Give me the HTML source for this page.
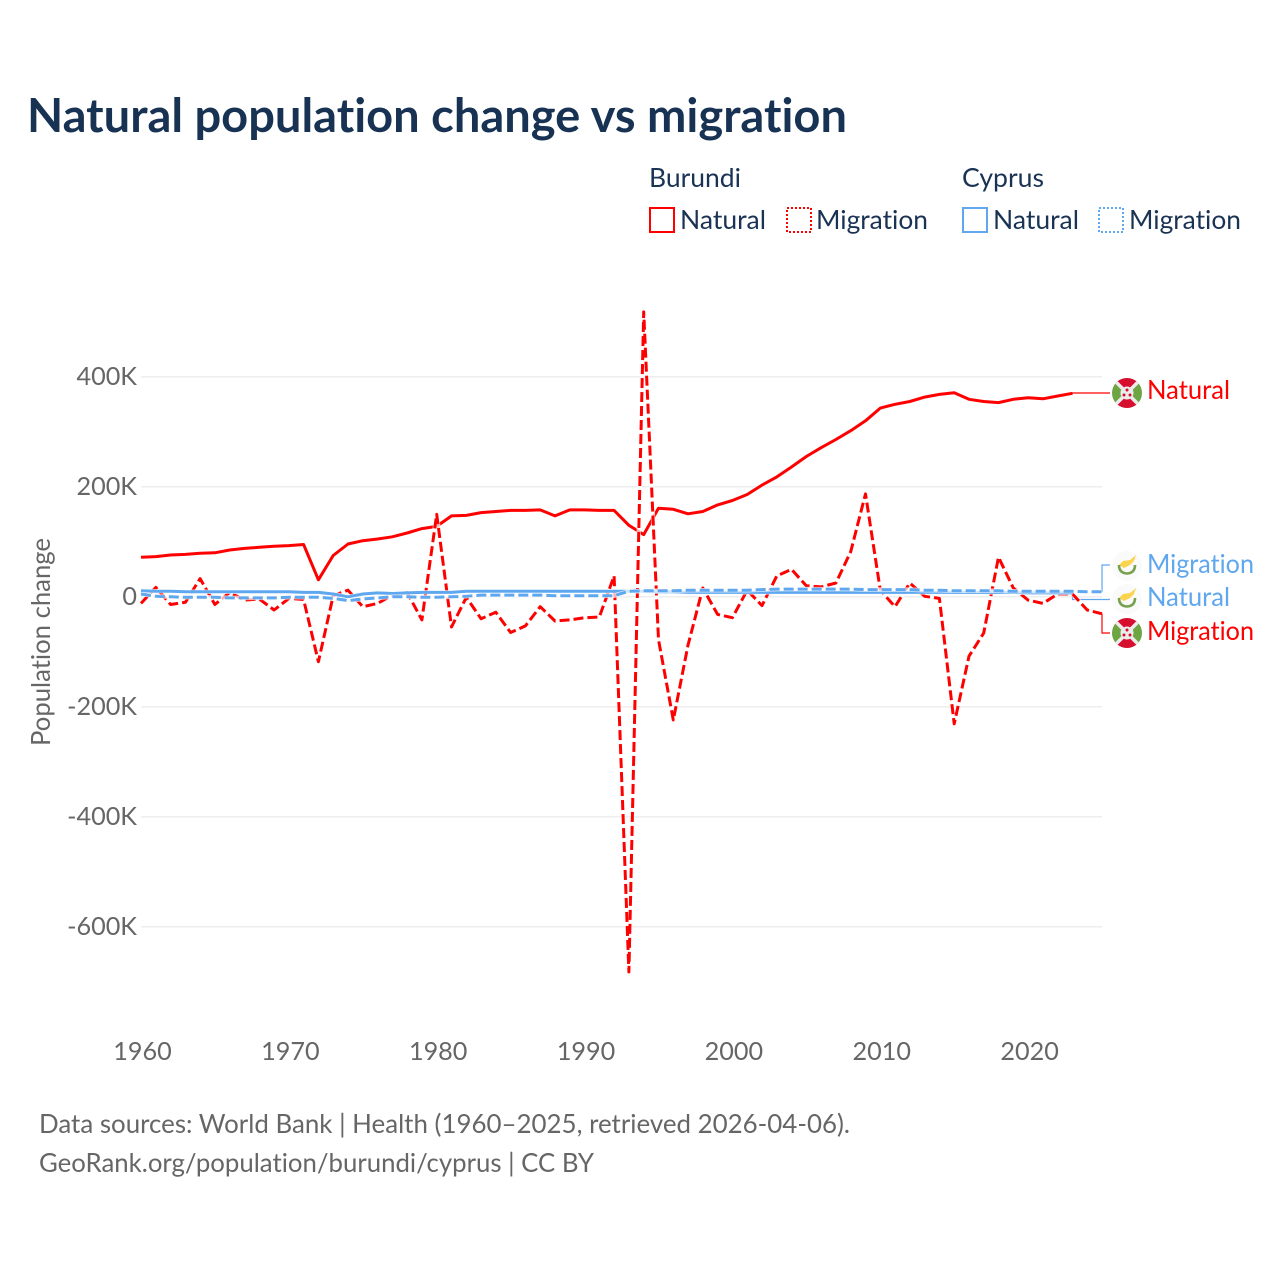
<!DOCTYPE html>
<html lang="en">
<head>
<meta charset="utf-8">
<title>Natural population change vs migration</title>
<style>
html,body{margin:0;padding:0;background:#fff;}
svg{display:block;}
text{font-family:"Lato","Carlito","Liberation Sans",sans-serif;font-variant-ligatures:none;font-feature-settings:"liga" 0;}
.navy{fill:#1a3354;font-size:26px;}
.grey{fill:#666666;font-size:26px;}
.tick{fill:#666666;font-size:25.2px;}
.red{fill:#ff0000;font-size:26px;}
.blue{fill:#5fa7ee;font-size:26px;}
</style>
</head>
<body>
<svg id="chart" xmlns="http://www.w3.org/2000/svg" width="1280" height="1280" viewBox="0 0 1280 1280">
  <rect width="1280" height="1280" fill="#ffffff"/>
  <text x="27" y="132" textLength="820" lengthAdjust="spacingAndGlyphs" style="font-size:46.5px;font-weight:700;fill:#173252">Natural population change vs migration</text>

  <g>
    <text class="navy" x="649" y="187" textLength="92" lengthAdjust="spacingAndGlyphs">Burundi</text>
    <text class="navy" x="962" y="187" textLength="82" lengthAdjust="spacingAndGlyphs">Cyprus</text>
    <rect x="650" y="208" width="24" height="24" fill="none" stroke="#ff0000" stroke-width="2"/>
    <text class="navy" x="680" y="229" textLength="86" lengthAdjust="spacingAndGlyphs">Natural</text>
    <rect x="787" y="208" width="24" height="24" fill="none" stroke="#ff0000" stroke-width="2" stroke-dasharray="2 2"/>
    <text class="navy" x="816" y="229" textLength="112" lengthAdjust="spacingAndGlyphs">Migration</text>
    <rect x="963" y="208" width="24" height="24" fill="none" stroke="#5fa7ee" stroke-width="2"/>
    <text class="navy" x="993" y="229" textLength="86" lengthAdjust="spacingAndGlyphs">Natural</text>
    <rect x="1099" y="208" width="24" height="24" fill="none" stroke="#5fa7ee" stroke-width="2" stroke-dasharray="2 2"/>
    <text class="navy" x="1129" y="229" textLength="112" lengthAdjust="spacingAndGlyphs">Migration</text>
  </g>

  <g id="grid"></g>
  <g id="ytick-labels"></g>
  <g id="xtick-labels"></g>
  <text class="grey" transform="translate(50,746) rotate(-90)" x="0" y="0" textLength="208" lengthAdjust="spacingAndGlyphs">Population change</text>

  <g id="leaders" fill="none" stroke-width="1.2"></g>
  <g id="series" fill="none"></g>

  <defs>
    <clipPath id="flag-clip"><circle cx="0" cy="0" r="15"/></clipPath>
    <g id="flag-burundi">
      <g clip-path="url(#flag-clip)">
        <rect x="-16" y="-16" width="32" height="32" fill="#ececec"/>
        <path d="M-16,-16H16L0,0Z M-16,16H16L0,0Z" fill="#d70f2f"/>
        <path d="M-16,-16L0,0L-16,16Z M16,-16L0,0L16,16Z" fill="#6ea544"/>
        <path d="M-15,-15L15,15M15,-15L-15,15" stroke="#ececec" stroke-width="3.5"/>
        <circle cx="0" cy="0" r="6.5" fill="#ececec"/>
        <circle cx="0" cy="-3" r="1.5" fill="#d70f2f"/>
        <circle cx="-3" cy="2" r="1.5" fill="#d70f2f"/>
        <circle cx="3" cy="2" r="1.5" fill="#d70f2f"/>
      </g>
    </g>
    <g id="flag-cyprus">
      <circle cx="0" cy="0" r="15" fill="#fafafa"/>
      <path d="M-8,-1L-4,-5L3,-6L9,-11L7,-5L3,-1L-3,2Z" fill="#fbd44f"/>
      <path d="M-8,-1Q-8,7 0,7.5Q8,7 8,-1" fill="none" stroke="#77a04f" stroke-width="2.6"/>
    </g>
  </defs>

  <use href="#flag-burundi" x="1127" y="393"/>
  <text class="red" x="1147" y="399" textLength="83" lengthAdjust="spacingAndGlyphs">Natural</text>
  <use href="#flag-cyprus" x="1127" y="566"/>
  <text class="blue" x="1147" y="573" textLength="107" lengthAdjust="spacingAndGlyphs">Migration</text>
  <use href="#flag-cyprus" x="1127" y="599"/>
  <text class="blue" x="1147" y="606" textLength="83" lengthAdjust="spacingAndGlyphs">Natural</text>
  <use href="#flag-burundi" x="1127" y="633"/>
  <text class="red" x="1147" y="640" textLength="107" lengthAdjust="spacingAndGlyphs">Migration</text>

  <text class="grey" x="39" y="1133" textLength="811" lengthAdjust="spacingAndGlyphs">Data sources: World Bank | Health (1960–2025, retrieved 2026-04-06).</text>
  <text class="grey" x="39" y="1172" textLength="555" lengthAdjust="spacingAndGlyphs">GeoRank.org/population/burundi/cyprus | CC BY</text>
</svg>
<script>
const startYear = 1960;
const yTicks = [400, 200, 0, -200, -400, -600];
const yTickLabels = ["400K", "200K", "0", "-200K", "-400K", "-600K"];
const xTicks = [1960, 1970, 1980, 1990, 2000, 2010, 2020];
const xTickLabels = ["1960", "1970", "1980", "1990", "2000", "2010", "2020"];

/* values in thousands, consecutive years from 1960 */
const burundiNatural = [72,73,76,77,79,80,85,88,90,92,93,95,31,75,96,102,105,109,116,124,128,147,148,153,155,157,157,158,147,158,158,157,157,130,113,161,159,151,155,167,175,186,203,218,236,255,271,286,302,320,343,350,355,363,368,371,359,355,353,359,362,360,365,370];
const burundiMigration = [-12,17,-14,-10,33,-14,8,-6,-4,-24,-3,-5,-118,2,12,-18,-12,3,8,-42,150,-55,-1,-40,-28,-65,-53,-18,-44,-42,-38,-37,38,-682,518,-78,-224,-88,16,-32,-38,12,-16,38,50,20,18,25,82,187,12,-18,25,1,-3,-231,-108,-66,72,16,-6,-12,5,5,-24,-31];
const cyprusNatural = [11,10,10,9,9,9,9,9,9,9,9,8,8,5,0,5,7,6,7,8,8,8,10,10,10,10,10,10,10,10,10,10,10,10,10,9,9,8,8,8,8,8,8,8,8,8,8,8,8,8,8,8,8,8,8,8,8,8,8,8,7,7,7,7];
const cyprusMigration = [5,1,0,-1,-1,-1,-2,-2,-2,-2,-1,-1,-1,-3,-7,-4,-2,0,0,-1,-1,0,1,3,3,3,3,3,2,2,2,2,2,10,11,11,11,12,12,12,12,12,13,14,14,14,14,14,14,13,13,13,13,12,12,11,11,11,11,10,10,10,10,10,9,9];

const svgNS = "http://www.w3.org/2000/svg";
function xScale(year) { return 141 + (year - 1960) * 14.785; }
function yScale(v) { return 596.8 - v * 0.55; }
function seriesPoints(values) {
  return values.map(function (v, i) { return xScale(startYear + i).toFixed(1) + "," + yScale(v).toFixed(1); }).join(" ");
}
function lastPoint(values) {
  return { x: xScale(startYear + values.length - 1), y: yScale(values[values.length - 1]) };
}

const grid = document.getElementById("grid");
const yLabels = document.getElementById("ytick-labels");
const xLabels = document.getElementById("xtick-labels");
yTicks.forEach(function (t, i) {
  const line = document.createElementNS(svgNS, "line");
  
  
  line.setAttribute("x1", 141);
  line.setAttribute("x2", 1102);
  line.setAttribute("y1", yScale(t));
  line.setAttribute("y2", yScale(t));
  line.setAttribute("stroke", "#e8e8e8");
  line.setAttribute("stroke-width", "1.2");
  grid.appendChild(line);
  const label = document.createElementNS(svgNS, "text");
  
  
  label.setAttribute("class", "tick");
  label.setAttribute("x", 137);
  label.setAttribute("y", yScale(t) + 8);
  label.setAttribute("text-anchor", "end");
  label.textContent = yTickLabels[i];
  yLabels.appendChild(label);
});
xTicks.forEach(function (t, i) {
  const label = document.createElementNS(svgNS, "text");
  
  
  label.setAttribute("class", "tick");
  label.setAttribute("x", xScale(t) + 1.5);
  label.setAttribute("y", 1060);
  label.setAttribute("text-anchor", "middle");
  label.textContent = xTickLabels[i];
  xLabels.appendChild(label);
});

const seriesGroup = document.getElementById("series");
function drawCasing(values) {
  const casing = document.createElementNS(svgNS, "polyline");
  
  
  casing.setAttribute("points", seriesPoints(values));
  casing.setAttribute("stroke", "#ffffff");
  casing.setAttribute("stroke-width", "4.5");
  casing.setAttribute("stroke-opacity", "0.7");
  seriesGroup.appendChild(casing);
}
function drawLine(values, name, color, dash) {
  const line = document.createElementNS(svgNS, "polyline");
  
  
  line.setAttribute("points", seriesPoints(values));
  line.setAttribute("stroke", color);
  line.setAttribute("stroke-width", "3");
  line.setAttribute("stroke-linejoin", "round");
  if (dash) { line.setAttribute("stroke-dasharray", dash); }
  seriesGroup.appendChild(line);
}
drawCasing(burundiNatural);
drawLine(burundiNatural, "line-burundi-natural", "#ff0000", "");
drawCasing(burundiMigration);
drawLine(burundiMigration, "line-burundi-migration", "#ff0000", "10 4");
drawCasing(cyprusNatural);
drawLine(cyprusNatural, "line-cyprus-natural", "#5fa7ee", "");
drawCasing(cyprusMigration);
drawLine(cyprusMigration, "line-cyprus-migration", "#5fa7ee", "10 4");

const leaders = document.getElementById("leaders");
function drawLeader(values, name, color, labelY) {
  const end = lastPoint(values);
  const path = document.createElementNS(svgNS, "path");
  
  
  path.setAttribute("d", "M" + end.x.toFixed(1) + "," + end.y.toFixed(1) + "V" + labelY + "H1110");
  path.setAttribute("stroke", color);
  leaders.appendChild(path);
}
drawLeader(burundiNatural, "leader-burundi-natural", "#ff0000", 393);
drawLeader(cyprusMigration, "leader-cyprus-migration", "#5fa7ee", 565);
drawLeader(cyprusNatural, "leader-cyprus-natural", "#5fa7ee", 599.5);
drawLeader(burundiMigration, "leader-burundi-migration", "#ff0000", 633);
</script>
</body>
</html>
